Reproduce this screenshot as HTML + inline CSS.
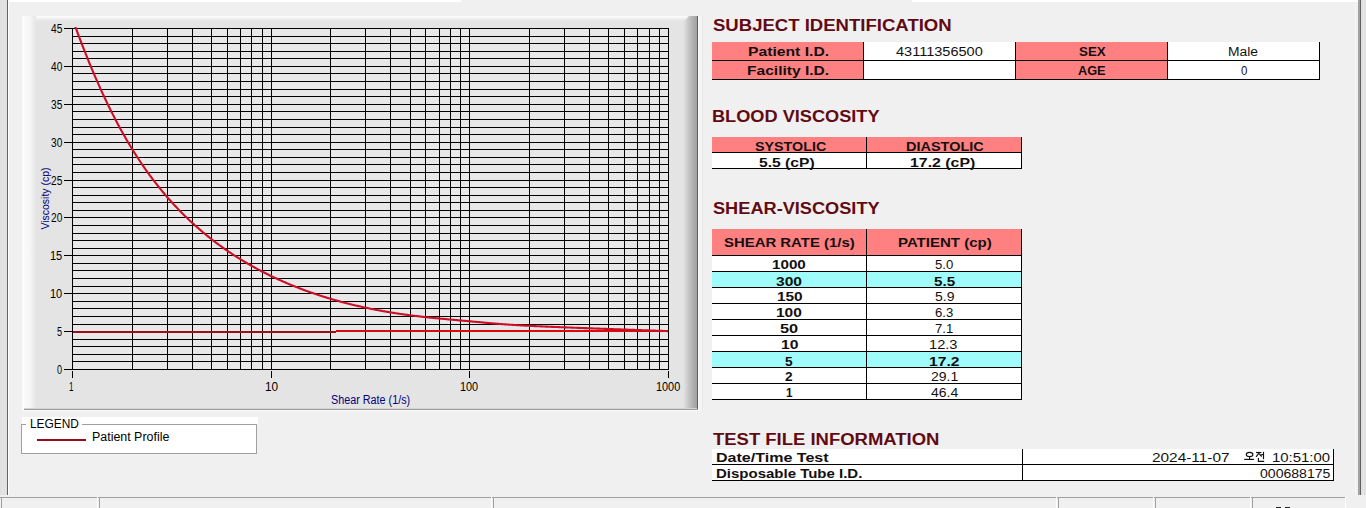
<!DOCTYPE html>
<html><head><meta charset="utf-8"><style>
html,body{margin:0;padding:0}
body{width:1366px;height:508px;overflow:hidden;background:#f0f0f0;position:relative;font-family:"Liberation Sans",sans-serif}
.r{position:absolute}
.t{position:absolute;white-space:nowrap}
</style></head><body>
<div class="r" style="left:0px;top:0px;width:7px;height:495px;background:#e0e0e0;"></div>
<div class="r" style="left:2px;top:0px;width:1px;height:495px;background:#e6e6e6;"></div>
<div class="r" style="left:5px;top:0px;width:1px;height:495px;background:#e4e4e4;"></div>
<div class="r" style="left:7px;top:0px;width:1px;height:495px;background:#646464;"></div>
<div class="r" style="left:8px;top:0px;width:1px;height:495px;background:#ffffff;"></div>
<div class="r" style="left:8px;top:0px;width:453px;height:2px;background:#ffffff;"></div>
<div class="r" style="left:912px;top:0px;width:447px;height:2px;background:#ffffff;"></div>
<div class="r" style="left:1355px;top:2px;width:1px;height:493px;background:#f6f6f6;"></div>
<div class="r" style="left:1358px;top:0px;width:2px;height:495px;background:#a2a2a2;"></div>
<div class="r" style="left:1360px;top:0px;width:1px;height:495px;background:#606060;"></div>
<div class="r" style="left:1361px;top:0px;width:5px;height:495px;background:#e0e0e0;"></div>
<div class="r" style="left:1363px;top:0px;width:1px;height:495px;background:#e6e6e6;"></div>
<div class="r" style="left:0px;top:497px;width:1346px;height:1px;background:#a0a0a0;"></div>
<div class="r" style="left:97px;top:497px;width:1px;height:11px;background:#ffffff;"></div>
<div class="r" style="left:99px;top:497px;width:1px;height:11px;background:#a0a0a0;"></div>
<div class="r" style="left:491px;top:497px;width:1px;height:11px;background:#ffffff;"></div>
<div class="r" style="left:493px;top:497px;width:1px;height:11px;background:#a0a0a0;"></div>
<div class="r" style="left:1056px;top:497px;width:1px;height:11px;background:#ffffff;"></div>
<div class="r" style="left:1058px;top:497px;width:1px;height:11px;background:#a0a0a0;"></div>
<div class="r" style="left:1153px;top:497px;width:1px;height:11px;background:#ffffff;"></div>
<div class="r" style="left:1155px;top:497px;width:1px;height:11px;background:#a0a0a0;"></div>
<div class="r" style="left:1250px;top:497px;width:1px;height:11px;background:#ffffff;"></div>
<div class="r" style="left:1252px;top:497px;width:1px;height:11px;background:#a0a0a0;"></div>
<div class="r" style="left:1px;top:497px;width:1px;height:11px;background:#a0a0a0;"></div>
<div class="r" style="left:1345px;top:497px;width:1px;height:11px;background:#ffffff;"></div>
<div class="r" style="left:22px;top:16px;width:676px;height:394px;background:#e4e4e4;"></div>
<div class="r" style="left:22px;top:16px;width:676px;height:5px;background:linear-gradient(to bottom,#fbfbfb,#f4f4f4 40%,#e4e4e4);"></div>
<div class="r" style="left:22px;top:16px;width:14px;height:394px;background:linear-gradient(to right,#fbfbfb 0%,#f6f6f6 55%,#e4e4e4 100%);"></div>
<div class="r" style="left:683px;top:16px;width:14px;height:394px;background:linear-gradient(to right,#e4e4e4 0%,#d6d6d6 22%,#c4c4c4 42%,#b2b2b2 70%,#a0a0a0 100%);clip-path:polygon(6px 0,100% 0,100% 100%,0 100%,0 6px)"></div>
<div class="r" style="left:697px;top:16px;width:1px;height:394px;background:#606060;"></div>
<div class="r" style="left:24px;top:408px;width:673px;height:1px;background:#d4d4d4;"></div>
<div class="r" style="left:24px;top:409px;width:674px;height:1px;background:#9c9c9c;"></div>
<div class="r" style="left:698px;top:16px;width:1px;height:395px;background:#fafafa;"></div>
<div class="r" style="left:22px;top:410px;width:677px;height:1px;background:#fafafa;"></div>
<svg class="r" style="left:0;top:0" width="705" height="420" viewBox="0 0 705 420" shape-rendering="crispEdges"><rect x="72" y="28" width="596" height="341" fill="#e8e8e8"/><rect x="72" y="369" width="597" height="1" fill="#000"/><rect x="72" y="361" width="597" height="1" fill="#000"/><rect x="72" y="354" width="597" height="1" fill="#000"/><rect x="72" y="346" width="597" height="1" fill="#000"/><rect x="72" y="339" width="597" height="1" fill="#000"/><rect x="72" y="331" width="597" height="1" fill="#000"/><rect x="72" y="324" width="597" height="1" fill="#000"/><rect x="72" y="316" width="597" height="1" fill="#000"/><rect x="72" y="308" width="597" height="1" fill="#000"/><rect x="72" y="301" width="597" height="1" fill="#000"/><rect x="72" y="293" width="597" height="1" fill="#000"/><rect x="72" y="286" width="597" height="1" fill="#000"/><rect x="72" y="278" width="597" height="1" fill="#000"/><rect x="72" y="270" width="597" height="1" fill="#000"/><rect x="72" y="263" width="597" height="1" fill="#000"/><rect x="72" y="255" width="597" height="1" fill="#000"/><rect x="72" y="248" width="597" height="1" fill="#000"/><rect x="72" y="240" width="597" height="1" fill="#000"/><rect x="72" y="233" width="597" height="1" fill="#000"/><rect x="72" y="225" width="597" height="1" fill="#000"/><rect x="72" y="217" width="597" height="1" fill="#000"/><rect x="72" y="210" width="597" height="1" fill="#000"/><rect x="72" y="202" width="597" height="1" fill="#000"/><rect x="72" y="195" width="597" height="1" fill="#000"/><rect x="72" y="187" width="597" height="1" fill="#000"/><rect x="72" y="180" width="597" height="1" fill="#000"/><rect x="72" y="172" width="597" height="1" fill="#000"/><rect x="72" y="164" width="597" height="1" fill="#000"/><rect x="72" y="157" width="597" height="1" fill="#000"/><rect x="72" y="149" width="597" height="1" fill="#000"/><rect x="72" y="142" width="597" height="1" fill="#000"/><rect x="72" y="134" width="597" height="1" fill="#000"/><rect x="72" y="127" width="597" height="1" fill="#000"/><rect x="72" y="119" width="597" height="1" fill="#000"/><rect x="72" y="111" width="597" height="1" fill="#000"/><rect x="72" y="104" width="597" height="1" fill="#000"/><rect x="72" y="96" width="597" height="1" fill="#000"/><rect x="72" y="89" width="597" height="1" fill="#000"/><rect x="72" y="81" width="597" height="1" fill="#000"/><rect x="72" y="73" width="597" height="1" fill="#000"/><rect x="72" y="66" width="597" height="1" fill="#000"/><rect x="72" y="58" width="597" height="1" fill="#000"/><rect x="72" y="51" width="597" height="1" fill="#000"/><rect x="72" y="43" width="597" height="1" fill="#000"/><rect x="72" y="36" width="597" height="1" fill="#000"/><rect x="72" y="28" width="597" height="1" fill="#000"/><rect x="72" y="28" width="1" height="342" fill="#000"/><rect x="132" y="28" width="1" height="342" fill="#000"/><rect x="167" y="28" width="1" height="342" fill="#000"/><rect x="192" y="28" width="1" height="342" fill="#000"/><rect x="211" y="28" width="1" height="342" fill="#000"/><rect x="227" y="28" width="1" height="342" fill="#000"/><rect x="240" y="28" width="1" height="342" fill="#000"/><rect x="251" y="28" width="1" height="342" fill="#000"/><rect x="262" y="28" width="1" height="342" fill="#000"/><rect x="271" y="28" width="1" height="342" fill="#000"/><rect x="330" y="28" width="1" height="342" fill="#000"/><rect x="365" y="28" width="1" height="342" fill="#000"/><rect x="390" y="28" width="1" height="342" fill="#000"/><rect x="410" y="28" width="1" height="342" fill="#000"/><rect x="425" y="28" width="1" height="342" fill="#000"/><rect x="439" y="28" width="1" height="342" fill="#000"/><rect x="450" y="28" width="1" height="342" fill="#000"/><rect x="460" y="28" width="1" height="342" fill="#000"/><rect x="469" y="28" width="1" height="342" fill="#000"/><rect x="529" y="28" width="1" height="342" fill="#000"/><rect x="564" y="28" width="1" height="342" fill="#000"/><rect x="589" y="28" width="1" height="342" fill="#000"/><rect x="608" y="28" width="1" height="342" fill="#000"/><rect x="624" y="28" width="1" height="342" fill="#000"/><rect x="637" y="28" width="1" height="342" fill="#000"/><rect x="649" y="28" width="1" height="342" fill="#000"/><rect x="659" y="28" width="1" height="342" fill="#000"/><rect x="668" y="28" width="1" height="342" fill="#000"/><rect x="64" y="369" width="8" height="1" fill="#000"/><rect x="64" y="331" width="8" height="1" fill="#000"/><rect x="64" y="293" width="8" height="1" fill="#000"/><rect x="64" y="255" width="8" height="1" fill="#000"/><rect x="64" y="217" width="8" height="1" fill="#000"/><rect x="64" y="180" width="8" height="1" fill="#000"/><rect x="64" y="142" width="8" height="1" fill="#000"/><rect x="64" y="104" width="8" height="1" fill="#000"/><rect x="64" y="66" width="8" height="1" fill="#000"/><rect x="64" y="28" width="8" height="1" fill="#000"/><rect x="72" y="371" width="1" height="7" fill="#000"/><rect x="271" y="371" width="1" height="7" fill="#000"/><rect x="469" y="371" width="1" height="7" fill="#000"/><rect x="668" y="371" width="1" height="7" fill="#000"/><rect x="73" y="331" width="263" height="2" fill="#a00c1e"/><rect x="336" y="330" width="332" height="2" fill="#d80a0a"/><clipPath id="cp"><rect x="72" y="27" width="597" height="343"/></clipPath><path shape-rendering="auto" d="M72.00,17.39 L72.99,20.18 L73.99,22.95 L74.98,25.70 L75.98,28.42 L76.97,31.13 L77.97,33.81 L78.96,36.46 L79.96,39.10 L80.95,41.72 L81.95,44.31 L82.94,46.88 L83.94,49.43 L84.93,51.96 L85.93,54.47 L86.92,56.95 L87.92,59.42 L88.91,61.86 L89.91,64.28 L90.90,66.68 L91.90,69.06 L92.89,71.42 L93.89,73.76 L94.88,76.08 L95.88,78.38 L96.87,80.65 L97.87,82.91 L98.86,85.15 L99.86,87.36 L100.85,89.56 L101.85,91.74 L102.84,93.89 L103.84,96.03 L104.83,98.15 L105.83,100.25 L106.82,102.33 L107.82,104.39 L108.81,106.43 L109.81,108.45 L110.80,110.45 L111.80,112.43 L112.79,114.40 L113.79,116.34 L114.78,118.27 L115.78,120.18 L116.77,122.07 L117.77,123.94 L118.76,125.80 L119.76,127.63 L120.75,129.45 L121.75,131.25 L122.74,133.04 L123.74,134.80 L124.73,136.55 L125.73,138.28 L126.72,140.00 L127.72,141.70 L128.71,143.38 L129.71,145.04 L130.70,146.69 L131.70,148.32 L132.69,149.93 L133.69,151.53 L134.68,153.11 L135.68,154.67 L136.67,156.22 L137.67,157.76 L138.66,159.27 L139.66,160.78 L140.65,162.27 L141.65,163.74 L142.64,165.20 L143.64,166.65 L144.63,168.08 L145.63,169.49 L146.62,170.90 L147.62,172.29 L148.61,173.66 L149.61,175.02 L150.60,176.37 L151.60,177.71 L152.59,179.03 L153.59,180.34 L154.58,181.64 L155.58,182.93 L156.57,184.20 L157.57,185.46 L158.56,186.71 L159.56,187.95 L160.55,189.17 L161.55,190.39 L162.54,191.59 L163.54,192.78 L164.53,193.96 L165.53,195.13 L166.52,196.29 L167.52,197.44 L168.51,198.58 L169.51,199.70 L170.50,200.82 L171.50,201.93 L172.49,203.02 L173.49,204.11 L174.48,205.19 L175.48,206.25 L176.47,207.31 L177.47,208.36 L178.46,209.39 L179.46,210.42 L180.45,211.44 L181.45,212.45 L182.44,213.45 L183.44,214.45 L184.43,215.43 L185.43,216.40 L186.42,217.37 L187.42,218.33 L188.41,219.28 L189.41,220.22 L190.40,221.15 L191.40,222.08 L192.39,222.99 L193.39,223.90 L194.38,224.80 L195.38,225.70 L196.37,226.58 L197.37,227.46 L198.36,228.33 L199.36,229.19 L200.35,230.05 L201.35,230.90 L202.34,231.74 L203.34,232.57 L204.33,233.40 L205.33,234.22 L206.32,235.04 L207.32,235.84 L208.31,236.64 L209.31,237.44 L210.30,238.22 L211.30,239.00 L212.29,239.78 L213.29,240.55 L214.28,241.31 L215.28,242.06 L216.27,242.81 L217.27,243.55 L218.26,244.29 L219.26,245.02 L220.25,245.75 L221.25,246.47 L222.24,247.18 L223.24,247.89 L224.23,248.59 L225.23,249.29 L226.22,249.98 L227.22,250.66 L228.21,251.34 L229.21,252.01 L230.20,252.68 L231.20,253.34 L232.19,254.00 L233.19,254.65 L234.18,255.30 L235.18,255.94 L236.17,256.58 L237.17,257.21 L238.16,257.84 L239.16,258.46 L240.15,259.08 L241.15,259.69 L242.14,260.30 L243.14,260.90 L244.13,261.49 L245.13,262.09 L246.12,262.67 L247.12,263.26 L248.11,263.84 L249.11,264.41 L250.10,264.98 L251.10,265.54 L252.09,266.10 L253.09,266.66 L254.08,267.21 L255.08,267.76 L256.07,268.30 L257.07,268.84 L258.06,269.38 L259.06,269.91 L260.05,270.43 L261.05,270.95 L262.04,271.47 L263.04,271.99 L264.03,272.50 L265.03,273.00 L266.02,273.50 L267.02,274.00 L268.01,274.49 L269.01,274.98 L270.00,275.47 L271.00,275.95 L271.99,276.43 L272.99,276.91 L273.98,277.38 L274.98,277.85 L275.97,278.31 L276.97,278.77 L277.96,279.23 L278.96,279.68 L279.95,280.13 L280.95,280.58 L281.94,281.02 L282.94,281.46 L283.93,281.89 L284.93,282.33 L285.92,282.76 L286.92,283.18 L287.91,283.60 L288.91,284.02 L289.90,284.44 L290.90,284.85 L291.89,285.26 L292.89,285.66 L293.88,286.07 L294.88,286.46 L295.87,286.86 L296.87,287.25 L297.86,287.64 L298.86,288.03 L299.85,288.41 L300.85,288.79 L301.84,289.17 L302.84,289.54 L303.83,289.91 L304.83,290.28 L305.82,290.64 L306.82,291.01 L307.81,291.37 L308.81,291.72 L309.80,292.07 L310.80,292.42 L311.79,292.77 L312.79,293.11 L313.78,293.46 L314.78,293.79 L315.77,294.13 L316.77,294.46 L317.76,294.79 L318.76,295.12 L319.75,295.44 L320.75,295.77 L321.74,296.09 L322.74,296.40 L323.73,296.72 L324.73,297.03 L325.72,297.34 L326.72,297.64 L327.71,297.94 L328.71,298.24 L329.70,298.54 L330.70,298.84 L331.69,299.13 L332.69,299.42 L333.68,299.71 L334.68,299.99 L335.67,300.28 L336.67,300.56 L337.66,300.83 L338.66,301.11 L339.65,301.38 L340.65,301.65 L341.64,301.92 L342.64,302.19 L343.63,302.45 L344.63,302.71 L345.62,302.97 L346.62,303.22 L347.61,303.48 L348.61,303.73 L349.60,303.98 L350.60,304.23 L351.59,304.47 L352.59,304.71 L353.58,304.95 L354.58,305.19 L355.57,305.43 L356.57,305.66 L357.56,305.89 L358.56,306.12 L359.55,306.35 L360.55,306.57 L361.54,306.80 L362.54,307.02 L363.53,307.24 L364.53,307.45 L365.52,307.67 L366.52,307.88 L367.51,308.09 L368.51,308.30 L369.50,308.50 L370.50,308.71 L371.49,308.91 L372.49,309.11 L373.48,309.31 L374.48,309.50 L375.47,309.70 L376.47,309.89 L377.46,310.08 L378.46,310.27 L379.45,310.45 L380.45,310.64 L381.44,310.82 L382.44,311.00 L383.43,311.18 L384.43,311.35 L385.42,311.53 L386.42,311.70 L387.41,311.87 L388.41,312.04 L389.40,312.21 L390.40,312.37 L391.39,312.53 L392.39,312.70 L393.38,312.86 L394.38,313.01 L395.37,313.17 L396.37,313.32 L397.36,313.48 L398.36,313.63 L399.35,313.78 L400.35,313.92 L401.34,314.07 L402.34,314.21 L403.33,314.35 L404.33,314.49 L405.32,314.63 L406.32,314.77 L407.31,314.90 L408.31,315.04 L409.30,315.17 L410.30,315.30 L411.29,315.43 L412.29,315.55 L413.28,315.68 L414.28,315.80 L415.27,315.92 L416.27,316.04 L417.26,316.16 L418.26,316.28 L419.25,316.40 L420.25,316.51 L421.24,316.62 L422.24,316.74 L423.23,316.85 L424.23,316.96 L425.22,317.07 L426.22,317.17 L427.21,317.28 L428.21,317.39 L429.20,317.49 L430.20,317.59 L431.19,317.70 L432.19,317.80 L433.18,317.90 L434.18,318.00 L435.17,318.10 L436.17,318.20 L437.16,318.30 L438.16,318.39 L439.15,318.49 L440.15,318.59 L441.14,318.68 L442.14,318.78 L443.13,318.87 L444.13,318.96 L445.12,319.06 L446.12,319.15 L447.11,319.24 L448.11,319.33 L449.10,319.43 L450.10,319.52 L451.09,319.61 L452.09,319.70 L453.08,319.79 L454.08,319.88 L455.07,319.97 L456.07,320.06 L457.06,320.15 L458.06,320.24 L459.05,320.33 L460.05,320.42 L461.04,320.51 L462.04,320.60 L463.03,320.69 L464.03,320.78 L465.02,320.87 L466.02,320.96 L467.01,321.05 L468.01,321.14 L469.00,321.23 L470.00,321.32 L470.99,321.41 L471.99,321.50 L472.98,321.59 L473.98,321.69 L474.97,321.78 L475.97,321.87 L476.96,321.96 L477.96,322.05 L478.95,322.14 L479.95,322.23 L480.94,322.32 L481.94,322.41 L482.93,322.50 L483.93,322.59 L484.92,322.68 L485.92,322.77 L486.91,322.86 L487.91,322.95 L488.90,323.04 L489.90,323.12 L490.89,323.21 L491.89,323.29 L492.88,323.38 L493.88,323.46 L494.87,323.55 L495.87,323.63 L496.86,323.71 L497.86,323.79 L498.85,323.87 L499.85,323.95 L500.84,324.03 L501.84,324.10 L502.83,324.18 L503.83,324.25 L504.82,324.33 L505.82,324.40 L506.81,324.47 L507.81,324.54 L508.80,324.61 L509.80,324.68 L510.79,324.74 L511.79,324.81 L512.78,324.88 L513.78,324.94 L514.77,325.00 L515.77,325.06 L516.76,325.12 L517.76,325.18 L518.75,325.24 L519.75,325.30 L520.74,325.36 L521.74,325.42 L522.73,325.47 L523.73,325.53 L524.72,325.58 L525.72,325.63 L526.71,325.69 L527.71,325.74 L528.70,325.79 L529.70,325.84 L530.69,325.89 L531.69,325.94 L532.68,325.99 L533.68,326.04 L534.67,326.09 L535.67,326.13 L536.66,326.18 L537.66,326.23 L538.65,326.27 L539.65,326.32 L540.64,326.36 L541.64,326.41 L542.63,326.45 L543.63,326.49 L544.62,326.54 L545.62,326.58 L546.61,326.62 L547.61,326.66 L548.60,326.70 L549.60,326.75 L550.59,326.79 L551.59,326.83 L552.58,326.87 L553.58,326.91 L554.57,326.95 L555.57,326.99 L556.56,327.03 L557.56,327.07 L558.55,327.10 L559.55,327.14 L560.54,327.18 L561.54,327.22 L562.53,327.26 L563.53,327.30 L564.52,327.34 L565.52,327.38 L566.51,327.41 L567.51,327.45 L568.50,327.49 L569.50,327.53 L570.49,327.57 L571.49,327.61 L572.48,327.64 L573.48,327.68 L574.47,327.72 L575.47,327.76 L576.46,327.80 L577.46,327.83 L578.45,327.87 L579.45,327.91 L580.44,327.95 L581.44,327.99 L582.43,328.02 L583.43,328.06 L584.42,328.10 L585.42,328.14 L586.41,328.17 L587.41,328.21 L588.40,328.25 L589.40,328.29 L590.39,328.32 L591.39,328.36 L592.38,328.40 L593.38,328.44 L594.37,328.47 L595.37,328.51 L596.36,328.55 L597.36,328.58 L598.35,328.62 L599.35,328.66 L600.34,328.69 L601.34,328.73 L602.33,328.77 L603.33,328.81 L604.32,328.84 L605.32,328.88 L606.31,328.92 L607.31,328.95 L608.30,328.99 L609.30,329.02 L610.29,329.06 L611.29,329.10 L612.28,329.13 L613.28,329.17 L614.27,329.21 L615.27,329.24 L616.26,329.28 L617.26,329.32 L618.25,329.35 L619.25,329.39 L620.24,329.42 L621.24,329.46 L622.23,329.50 L623.23,329.53 L624.22,329.57 L625.22,329.60 L626.21,329.64 L627.21,329.67 L628.20,329.71 L629.20,329.75 L630.19,329.78 L631.19,329.82 L632.18,329.85 L633.18,329.89 L634.17,329.92 L635.17,329.96 L636.16,330.00 L637.16,330.03 L638.15,330.07 L639.15,330.10 L640.14,330.14 L641.14,330.17 L642.13,330.21 L643.13,330.24 L644.12,330.28 L645.12,330.31 L646.11,330.35 L647.11,330.38 L648.10,330.42 L649.10,330.45 L650.09,330.49 L651.09,330.52 L652.08,330.56 L653.08,330.59 L654.07,330.63 L655.07,330.66 L656.06,330.70 L657.06,330.73 L658.05,330.77 L659.05,330.80 L660.04,330.84 L661.04,330.87 L662.03,330.90 L663.03,330.94 L664.02,330.97 L665.02,331.01 L666.01,331.04 L667.01,331.08 L668.00,331.11" fill="none" stroke="#cc0e26" stroke-width="2.1" clip-path="url(#cp)"/></svg>
<div class="t" style="left:-5.5px;top:193.0px;width:100px;font-size:11px;line-height:11px;color:#000080;text-align:center;transform:rotate(-90deg) scaleX(0.953);transform-origin:50px 5.5px;">Viscosity (cp)</div>
<div class="r" style="left:22px;top:417px;width:236px;height:8px;background:#ffffff;"></div>
<div class="r" style="left:21px;top:424px;width:234px;height:28px;border:1px solid #a0a0a0;background:#fff"></div>
<div class="r" style="left:26px;top:418px;width:56px;height:8px;background:#ffffff;"></div>
<div class="r" style="left:37px;top:439px;width:49px;height:2px;background:#960c1c;"></div>
<div class="r" style="left:702px;top:16px;width:1px;height:395px;background:#e8e8e8;"></div>
<div class="r" style="left:699px;top:16px;width:3px;height:395px;background:#f4f4f4;"></div>
<div class="r" style="left:712px;top:42px;width:151px;height:37px;background:#ff8080;"></div>
<div class="r" style="left:864px;top:42px;width:151px;height:37px;background:#fff;"></div>
<div class="r" style="left:1016px;top:42px;width:151px;height:37px;background:#ff8080;"></div>
<div class="r" style="left:1168px;top:42px;width:151px;height:37px;background:#fff;"></div>
<div class="r" style="left:712px;top:60px;width:608px;height:1px;background:#000;"></div>
<div class="r" style="left:712px;top:79px;width:608px;height:1px;background:#000;"></div>
<div class="r" style="left:863px;top:42px;width:1px;height:38px;background:#000;"></div>
<div class="r" style="left:1015px;top:42px;width:1px;height:38px;background:#000;"></div>
<div class="r" style="left:1167px;top:42px;width:1px;height:38px;background:#000;"></div>
<div class="r" style="left:1319px;top:42px;width:1px;height:38px;background:#000;"></div>
<div class="r" style="left:712px;top:137px;width:309px;height:15px;background:#ff8080;"></div>
<div class="r" style="left:712px;top:153px;width:309px;height:15px;background:#fff;"></div>
<div class="r" style="left:712px;top:152px;width:310px;height:1px;background:#000;"></div>
<div class="r" style="left:712px;top:168px;width:310px;height:1px;background:#000;"></div>
<div class="r" style="left:866px;top:137px;width:1px;height:32px;background:#000;"></div>
<div class="r" style="left:1021px;top:137px;width:1px;height:32px;background:#000;"></div>
<div class="r" style="left:712px;top:229px;width:309px;height:26px;background:#ff8080;"></div>
<div class="r" style="left:712px;top:255px;width:310px;height:1px;background:#000;"></div>
<div class="r" style="left:712px;top:256px;width:309px;height:15px;background:#fff;"></div>
<div class="r" style="left:712px;top:271px;width:310px;height:1px;background:#000;"></div>
<div class="r" style="left:712px;top:272px;width:309px;height:15px;background:#a0fcfa;"></div>
<div class="r" style="left:712px;top:287px;width:310px;height:1px;background:#000;"></div>
<div class="r" style="left:712px;top:288px;width:309px;height:15px;background:#fff;"></div>
<div class="r" style="left:712px;top:303px;width:310px;height:1px;background:#000;"></div>
<div class="r" style="left:712px;top:304px;width:309px;height:15px;background:#fff;"></div>
<div class="r" style="left:712px;top:319px;width:310px;height:1px;background:#000;"></div>
<div class="r" style="left:712px;top:320px;width:309px;height:15px;background:#fff;"></div>
<div class="r" style="left:712px;top:335px;width:310px;height:1px;background:#000;"></div>
<div class="r" style="left:712px;top:336px;width:309px;height:15px;background:#fff;"></div>
<div class="r" style="left:712px;top:351px;width:310px;height:1px;background:#000;"></div>
<div class="r" style="left:712px;top:352px;width:309px;height:15px;background:#a0fcfa;"></div>
<div class="r" style="left:712px;top:367px;width:310px;height:1px;background:#000;"></div>
<div class="r" style="left:712px;top:368px;width:309px;height:15px;background:#fff;"></div>
<div class="r" style="left:712px;top:383px;width:310px;height:1px;background:#000;"></div>
<div class="r" style="left:712px;top:384px;width:309px;height:15px;background:#fff;"></div>
<div class="r" style="left:712px;top:399px;width:310px;height:1px;background:#000;"></div>
<div class="r" style="left:866px;top:229px;width:1px;height:171px;background:#000;"></div>
<div class="r" style="left:1021px;top:229px;width:1px;height:171px;background:#000;"></div>
<div class="r" style="left:712px;top:449px;width:621px;height:15px;background:#fff;"></div>
<div class="r" style="left:712px;top:465px;width:621px;height:15px;background:#fff;"></div>
<div class="r" style="left:712px;top:464px;width:622px;height:1px;background:#000;"></div>
<div class="r" style="left:712px;top:480px;width:622px;height:1px;background:#000;"></div>
<div class="r" style="left:1022px;top:449px;width:1px;height:32px;background:#000;"></div>
<div class="r" style="left:1333px;top:449px;width:1px;height:32px;background:#000;"></div>
<svg class="r" style="left:1240px;top:448px" width="30" height="16" viewBox="1240 448 30 16" fill="none" stroke="#141010" stroke-width="1.15"><ellipse cx="1249.6" cy="454.4" rx="3.3" ry="2.1"/><line x1="1249.6" y1="456.5" x2="1249.6" y2="459.4"/><line x1="1244.2" y1="459.4" x2="1254" y2="459.4"/><line x1="1256" y1="452.5" x2="1261.4" y2="452.5"/><line x1="1259" y1="452.8" x2="1256.1" y2="456.8"/><line x1="1259" y1="453.6" x2="1261.8" y2="456.5"/><line x1="1263.5" y1="451.8" x2="1263.5" y2="459.2"/><line x1="1261.2" y1="454.6" x2="1263.5" y2="454.6"/><polyline points="1258.4,458 1258.4,461.3 1264.2,461.3"/></svg>
<div class="r" style="left:1276px;top:507px;width:5px;height:1px;background:#202020;"></div>
<div class="r" style="left:1285px;top:507px;width:5px;height:1px;background:#202020;"></div>
<div class="t" style="left:712.70px;top:18px;font-size:16px;line-height:16px;font-weight:bold;color:#620a12;transform:scaleX(1.1590);transform-origin:0 0">SUBJECT IDENTIFICATION</div>
<div class="t" style="left:711.76px;top:109px;font-size:16px;line-height:16px;font-weight:bold;color:#620a12;transform:scaleX(1.1354);transform-origin:0 0">BLOOD VISCOSITY</div>
<div class="t" style="left:712.80px;top:201px;font-size:16px;line-height:16px;font-weight:bold;color:#620a12;transform:scaleX(1.1361);transform-origin:0 0">SHEAR-VISCOSITY</div>
<div class="t" style="left:712.80px;top:432px;font-size:16px;line-height:16px;font-weight:bold;color:#620a12;transform:scaleX(1.1544);transform-origin:0 0">TEST FILE INFORMATION</div>
<div class="t" style="left:747.50px;top:46px;font-size:12px;line-height:12px;font-weight:bold;color:#141010;transform:scaleX(1.3081);transform-origin:0 0">Patient I.D.</div>
<div class="t" style="left:896.30px;top:46px;font-size:12px;line-height:12px;font-weight:normal;color:#141010;transform:scaleX(1.2111);transform-origin:0 0">43111356500</div>
<div class="t" style="left:1078.80px;top:46px;font-size:12px;line-height:12px;font-weight:bold;color:#141010;transform:scaleX(1.1125);transform-origin:0 0">SEX</div>
<div class="t" style="left:1228.35px;top:46px;font-size:12px;line-height:12px;font-weight:normal;color:#141010;transform:scaleX(1.1520);transform-origin:0 0">Male</div>
<div class="t" style="left:746.90px;top:65px;font-size:12px;line-height:12px;font-weight:bold;color:#141010;transform:scaleX(1.2968);transform-origin:0 0">Facility I.D.</div>
<div class="t" style="left:1077.50px;top:65px;font-size:12px;line-height:12px;font-weight:bold;color:#141010;transform:scaleX(1.0615);transform-origin:0 0">AGE</div>
<div class="t" style="left:1240.70px;top:65px;font-size:12px;line-height:12px;font-weight:normal;color:#141010;transform:scaleX(0.9571);transform-origin:0 0">0</div>
<div class="t" style="left:754.60px;top:141px;font-size:12px;line-height:12px;font-weight:bold;color:#141010;transform:scaleX(1.1915);transform-origin:0 0">SYSTOLIC</div>
<div class="t" style="left:905.90px;top:141px;font-size:12px;line-height:12px;font-weight:bold;color:#141010;transform:scaleX(1.2063);transform-origin:0 0">DIASTOLIC</div>
<div class="t" style="left:758.90px;top:157px;font-size:12px;line-height:12px;font-weight:bold;color:#141010;transform:scaleX(1.3047);transform-origin:0 0">5.5 (cP)</div>
<div class="t" style="left:910.20px;top:157px;font-size:12px;line-height:12px;font-weight:bold;color:#141010;transform:scaleX(1.3224);transform-origin:0 0">17.2 (cP)</div>
<div class="t" style="left:723.90px;top:237px;font-size:12px;line-height:12px;font-weight:bold;color:#141010;transform:scaleX(1.2429);transform-origin:0 0">SHEAR RATE (1/s)</div>
<div class="t" style="left:897.80px;top:237px;font-size:12px;line-height:12px;font-weight:bold;color:#141010;transform:scaleX(1.2507);transform-origin:0 0">PATIENT (cp)</div>
<div class="t" style="left:772.20px;top:259px;font-size:12px;line-height:12px;font-weight:bold;color:#141010;transform:scaleX(1.2667);transform-origin:0 0">1000</div>
<div class="t" style="left:934.70px;top:259px;font-size:12px;line-height:12px;font-weight:normal;color:#141010;transform:scaleX(1.0941);transform-origin:0 0">5.0</div>
<div class="t" style="left:776.30px;top:276px;font-size:12px;line-height:12px;font-weight:bold;color:#141010;transform:scaleX(1.3000);transform-origin:0 0">300</div>
<div class="t" style="left:933.55px;top:276px;font-size:12px;line-height:12px;font-weight:bold;color:#141010;transform:scaleX(1.2647);transform-origin:0 0">5.5</div>
<div class="t" style="left:776.50px;top:291px;font-size:12px;line-height:12px;font-weight:bold;color:#141010;transform:scaleX(1.2800);transform-origin:0 0">150</div>
<div class="t" style="left:934.70px;top:291px;font-size:12px;line-height:12px;font-weight:normal;color:#141010;transform:scaleX(1.1625);transform-origin:0 0">5.9</div>
<div class="t" style="left:776.40px;top:307px;font-size:12px;line-height:12px;font-weight:bold;color:#141010;transform:scaleX(1.2900);transform-origin:0 0">100</div>
<div class="t" style="left:934.70px;top:307px;font-size:12px;line-height:12px;font-weight:normal;color:#141010;transform:scaleX(1.0941);transform-origin:0 0">6.3</div>
<div class="t" style="left:780.45px;top:323px;font-size:12px;line-height:12px;font-weight:bold;color:#141010;transform:scaleX(1.3615);transform-origin:0 0">50</div>
<div class="t" style="left:934.70px;top:323px;font-size:12px;line-height:12px;font-weight:normal;color:#141010;transform:scaleX(1.0941);transform-origin:0 0">7.1</div>
<div class="t" style="left:780.80px;top:339px;font-size:12px;line-height:12px;font-weight:bold;color:#141010;transform:scaleX(1.3077);transform-origin:0 0">10</div>
<div class="t" style="left:929.38px;top:339px;font-size:12px;line-height:12px;font-weight:normal;color:#141010;transform:scaleX(1.2182);transform-origin:0 0">12.3</div>
<div class="t" style="left:785.30px;top:356px;font-size:12px;line-height:12px;font-weight:bold;color:#141010;transform:scaleX(1.1429);transform-origin:0 0">5</div>
<div class="t" style="left:929.30px;top:356px;font-size:12px;line-height:12px;font-weight:bold;color:#141010;transform:scaleX(1.3043);transform-origin:0 0">17.2</div>
<div class="t" style="left:785.30px;top:371px;font-size:12px;line-height:12px;font-weight:bold;color:#141010;transform:scaleX(1.1429);transform-origin:0 0">2</div>
<div class="t" style="left:930.60px;top:371px;font-size:12px;line-height:12px;font-weight:normal;color:#141010;transform:scaleX(1.1652);transform-origin:0 0">29.1</div>
<div class="t" style="left:785.90px;top:387px;font-size:12px;line-height:12px;font-weight:bold;color:#141010;transform:scaleX(0.9714);transform-origin:0 0">1</div>
<div class="t" style="left:930.60px;top:387px;font-size:12px;line-height:12px;font-weight:normal;color:#141010;transform:scaleX(1.1652);transform-origin:0 0">46.4</div>
<div class="t" style="left:715.70px;top:452px;font-size:12px;line-height:12px;font-weight:bold;color:#141010;transform:scaleX(1.3369);transform-origin:0 0">Date/Time Test</div>
<div class="t" style="left:715.70px;top:468px;font-size:12px;line-height:12px;font-weight:bold;color:#141010;transform:scaleX(1.2496);transform-origin:0 0">Disposable Tube I.D.</div>
<div class="t" style="left:1151.70px;top:452px;font-size:12px;line-height:12px;font-weight:normal;color:#141010;transform:scaleX(1.2817);transform-origin:0 0">2024-11-07</div>
<div class="t" style="left:1271.76px;top:452px;font-size:12px;line-height:12px;font-weight:normal;color:#141010;transform:scaleX(1.2413);transform-origin:0 0">10:51:00</div>
<div class="t" style="left:1259.80px;top:468px;font-size:12px;line-height:12px;font-weight:normal;color:#141010;transform:scaleX(1.1717);transform-origin:0 0">000688175</div>
<div class="t" style="left:56.80px;top:364px;font-size:12px;line-height:12px;font-weight:normal;color:#000;transform:scaleX(0.7571);transform-origin:0 0">0</div>
<div class="t" style="left:56.80px;top:326px;font-size:12px;line-height:12px;font-weight:normal;color:#000;transform:scaleX(0.7571);transform-origin:0 0">5</div>
<div class="t" style="left:50.18px;top:288px;font-size:12px;line-height:12px;font-weight:normal;color:#000;transform:scaleX(0.9167);transform-origin:0 0">10</div>
<div class="t" style="left:50.18px;top:250px;font-size:12px;line-height:12px;font-weight:normal;color:#000;transform:scaleX(0.9167);transform-origin:0 0">15</div>
<div class="t" style="left:51.10px;top:212px;font-size:12px;line-height:12px;font-weight:normal;color:#000;transform:scaleX(0.8462);transform-origin:0 0">20</div>
<div class="t" style="left:51.10px;top:175px;font-size:12px;line-height:12px;font-weight:normal;color:#000;transform:scaleX(0.8462);transform-origin:0 0">25</div>
<div class="t" style="left:51.10px;top:137px;font-size:12px;line-height:12px;font-weight:normal;color:#000;transform:scaleX(0.8462);transform-origin:0 0">30</div>
<div class="t" style="left:51.10px;top:99px;font-size:12px;line-height:12px;font-weight:normal;color:#000;transform:scaleX(0.8462);transform-origin:0 0">35</div>
<div class="t" style="left:51.10px;top:61px;font-size:12px;line-height:12px;font-weight:normal;color:#000;transform:scaleX(0.8462);transform-origin:0 0">40</div>
<div class="t" style="left:51.10px;top:23px;font-size:12px;line-height:12px;font-weight:normal;color:#000;transform:scaleX(0.8462);transform-origin:0 0">45</div>
<div class="t" style="left:68.63px;top:381px;font-size:12px;line-height:12px;font-weight:normal;color:#000;transform:scaleX(0.6667);transform-origin:0 0">1</div>
<div class="t" style="left:264.52px;top:381px;font-size:12px;line-height:12px;font-weight:normal;color:#000;transform:scaleX(0.9833);transform-origin:0 0">10</div>
<div class="t" style="left:459.99px;top:381px;font-size:12px;line-height:12px;font-weight:normal;color:#000;transform:scaleX(0.9053);transform-origin:0 0">100</div>
<div class="t" style="left:655.79px;top:381px;font-size:12px;line-height:12px;font-weight:normal;color:#000;transform:scaleX(0.9077);transform-origin:0 0">1000</div>
<div class="t" style="left:331.10px;top:394px;font-size:12px;line-height:12px;font-weight:normal;color:#000080;transform:scaleX(0.8989);transform-origin:0 0">Shear Rate (1/s)</div>
<div class="t" style="left:29.61px;top:418px;font-size:12px;line-height:12px;font-weight:normal;color:#000;transform:scaleX(0.9917);transform-origin:0 0">LEGEND</div>
<div class="t" style="left:91.96px;top:431px;font-size:12px;line-height:12px;font-weight:normal;color:#000;transform:scaleX(1.0351);transform-origin:0 0">Patient Profile</div>
</body></html>
